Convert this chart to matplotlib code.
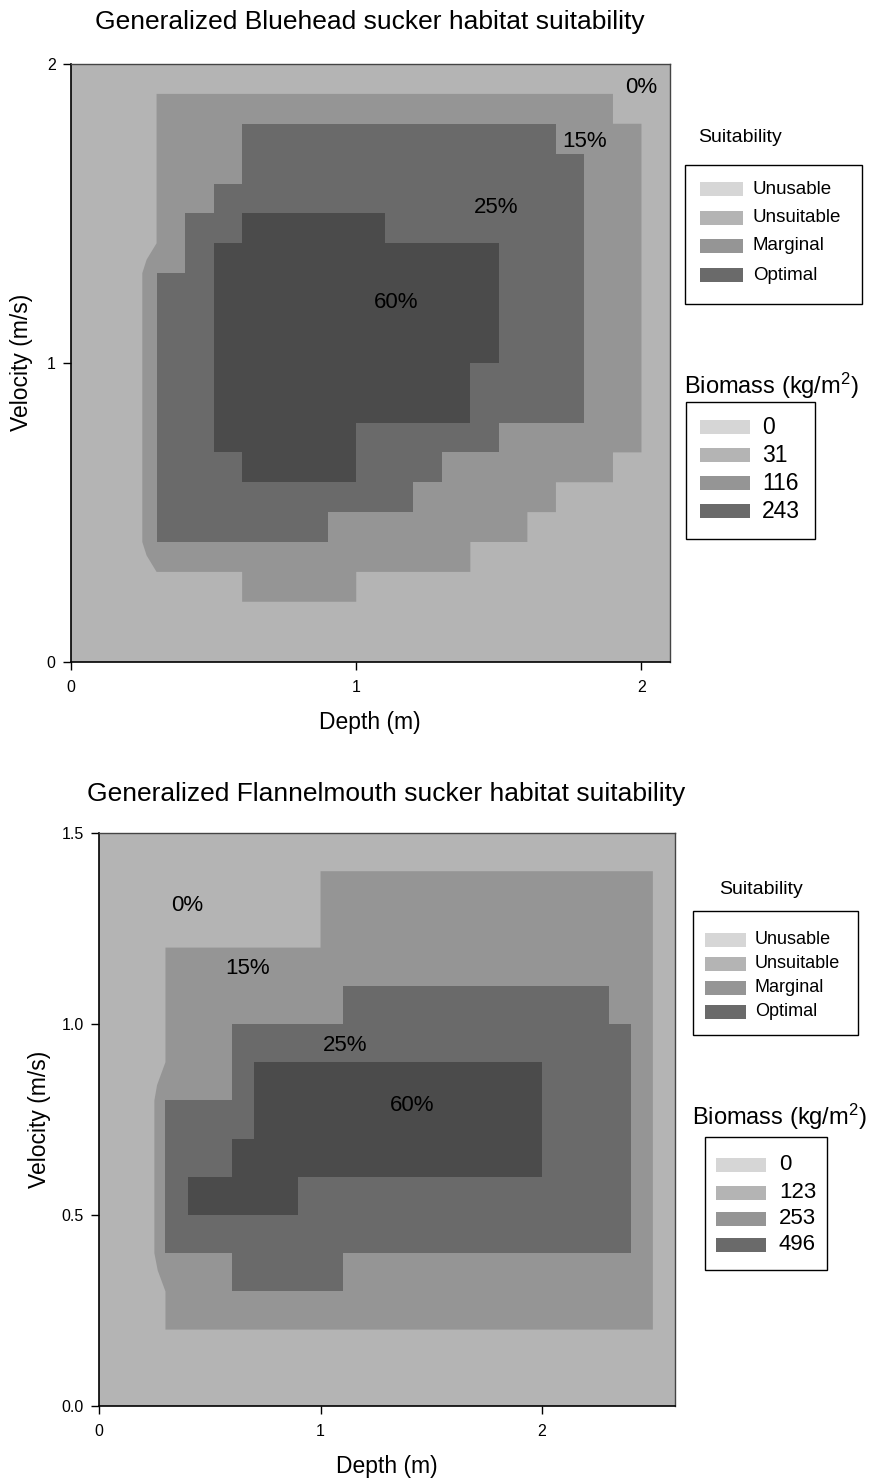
"""Generalized habitat suitability maps (depth vs. velocity) for two sucker species."""
import matplotlib
matplotlib.use("Agg")
import matplotlib.pyplot as plt
from matplotlib.patches import Polygon, Rectangle

plt.rcParams.update({
    "font.family": ["Liberation Sans", "DejaVu Sans"],
    "mathtext.fontset": "custom",
    "mathtext.rm": "Liberation Sans",
    "mathtext.it": "Liberation Sans",
})

_UNUSABLE = "#d6d6d6"
_UNSUITABLE = "#b4b4b4"
_MARGINAL = "#959595"
_OPTIMAL = "#6a6a6a"
_CORE = "#4b4b4b"

# --- Bluehead sucker: zone outlines as (depth m, velocity m/s) vertices ---
bluehead_15 = [(0.3, 1.9), (1.9, 1.9), (1.9, 1.8), (2.0, 1.8), (2.0, 0.7), (1.9, 0.7),
               (1.9, 0.6), (1.7, 0.6), (1.7, 0.5), (1.6, 0.5), (1.6, 0.4), (1.4, 0.4),
               (1.4, 0.3), (1.0, 0.3), (1.0, 0.2), (0.6, 0.2), (0.6, 0.3), (0.3, 0.3),
               (0.265, 0.355), (0.25, 0.4), (0.25, 1.3), (0.265, 1.345), (0.3, 1.4)]
bluehead_25 = [(0.6, 1.8), (1.7, 1.8), (1.7, 1.7), (1.8, 1.7), (1.8, 0.8), (1.5, 0.8),
               (1.5, 0.7), (1.3, 0.7), (1.3, 0.6), (1.2, 0.6), (1.2, 0.5), (0.9, 0.5),
               (0.9, 0.4), (0.3, 0.4), (0.3, 1.3), (0.4, 1.3), (0.4, 1.5), (0.5, 1.5),
               (0.5, 1.6), (0.6, 1.6)]
bluehead_60 = [(0.6, 1.5), (1.1, 1.5), (1.1, 1.4), (1.5, 1.4), (1.5, 1.0), (1.4, 1.0),
               (1.4, 0.8), (1.0, 0.8), (1.0, 0.6), (0.6, 0.6), (0.6, 0.7), (0.5, 0.7),
               (0.5, 1.4), (0.6, 1.4)]
bluehead_pct = ["0%", "15%", "25%", "60%"]
bluehead_pct_xy = [(2.0, 1.92), (1.8, 1.74), (1.49, 1.52), (1.14, 1.20)]
bluehead_biomass = ["0", "31", "116", "243"]

# --- Flannelmouth sucker ---
flannel_15 = [(0.3, 1.2), (1.0, 1.2), (1.0, 1.4), (2.5, 1.4), (2.5, 0.2), (0.3, 0.2),
              (0.3, 0.3), (0.265, 0.355), (0.25, 0.4), (0.25, 0.8), (0.262, 0.84), (0.3, 0.9)]
flannel_25 = [(0.6, 1.0), (1.1, 1.0), (1.1, 1.1), (2.3, 1.1), (2.3, 1.0), (2.4, 1.0),
              (2.4, 0.4), (1.1, 0.4), (1.1, 0.3), (0.6, 0.3), (0.6, 0.4), (0.3, 0.4),
              (0.3, 0.8), (0.6, 0.8)]
flannel_60 = [(0.7, 0.9), (2.0, 0.9), (2.0, 0.6), (0.9, 0.6), (0.9, 0.5), (0.4, 0.5),
              (0.4, 0.6), (0.6, 0.6), (0.6, 0.7), (0.7, 0.7)]
flannel_pct = ["0%", "15%", "25%", "60%"]
flannel_pct_xy = [(0.40, 1.31), (0.67, 1.145), (1.11, 0.944), (1.415, 0.787)]
flannel_biomass = ["0", "123", "253", "496"]

suitability = ["Unusable", "Unsuitable", "Marginal", "Optimal"]
key_colors = [_UNUSABLE, _UNSUITABLE, _MARGINAL, _OPTIMAL]

W, H = 879, 1480
fig = plt.figure(figsize=(W / 100, H / 100), dpi=100)


def px_axes(left, top, right, bottom):
    return fig.add_axes([left / W, 1 - bottom / H, (right - left) / W, (bottom - top) / H])


def draw_panel(ax, zones, pct, pct_xy, xlim, ylim, yticks, yfmt):
    ax.set_facecolor(_UNSUITABLE)
    for verts, col in zip(zones, [_MARGINAL, _OPTIMAL, _CORE]):
        ax.add_patch(Polygon(verts, closed=True, facecolor=col, edgecolor="none"))
    for txt, (x, y) in zip(pct, pct_xy):
        ax.text(x, y, txt, fontsize=16, ha="center", va="center")
    ax.set_xlim(*xlim)
    ax.set_ylim(*ylim)
    ax.set_xticks([0, 1, 2])
    ax.set_yticks(yticks)
    ax.set_yticklabels([yfmt.format(v) for v in yticks])
    ax.tick_params(direction="out", length=6, width=1, labelsize=11.5)
    ax.tick_params(axis="x", pad=7)
    ax.tick_params(axis="y", pad=5)
    for side in ("left", "bottom"):
        ax.spines[side].set_color("black")
        ax.spines[side].set_linewidth(1.2)
    for side in ("top", "right"):
        ax.spines[side].set_color("#444444")
        ax.spines[side].set_linewidth(1.0)


ax1 = px_axes(71, 64, 670, 661.5)
draw_panel(ax1, [bluehead_15, bluehead_25, bluehead_60], bluehead_pct, bluehead_pct_xy,
           (0, 2.1), (0, 2), [0, 1, 2], "{:g}")
ax2 = px_axes(99, 833, 675, 1406)
draw_panel(ax2, [flannel_15, flannel_25, flannel_60], flannel_pct, flannel_pct_xy,
           (0, 2.6), (0, 1.5), [0, 0.5, 1.0, 1.5], "{:.1f}")

# overlay in pixel units for titles, axis labels and the keys
ov = fig.add_axes([0, 0, 1, 1])
ov.set_xlim(0, W)
ov.set_ylim(H, 0)
ov.axis("off")
ov.patch.set_alpha(0)

ov.text(370, 22, "Generalized Bluehead sucker habitat suitability", fontsize=19,
        ha="center", va="center")
ov.text(386, 794, "Generalized Flannelmouth sucker habitat suitability", fontsize=19,
        ha="center", va="center")
ov.text(370, 722, "Depth (m)", fontsize=16.5, ha="center", va="center")
ov.text(387, 1466, "Depth (m)", fontsize=16.5, ha="center", va="center")
ov.text(22, 362, "Velocity (m/s)", fontsize=16.5, ha="center", va="center", rotation=90)
ov.text(40, 1119, "Velocity (m/s)", fontsize=16.5, ha="center", va="center", rotation=90)


def draw_key(title, title_xy, title_size, box, rows, labels, colors, patch_x, label_x,
             size, patch_h=14):
    ov.text(*title_xy, title, fontsize=title_size, ha="center", va="center")
    x0, y0, x1, y1 = box
    ov.add_patch(Rectangle((x0, y0), x1 - x0, y1 - y0, facecolor="white",
                           edgecolor="black", linewidth=1))
    for y, lab, col in zip(rows, labels, colors):
        ov.add_patch(Rectangle((patch_x[0], y - patch_h / 2), patch_x[1] - patch_x[0],
                               patch_h, facecolor=col, edgecolor="none"))
        ov.text(label_x, y, lab, fontsize=size, ha="left", va="center")


biomass_title = r"Biomass (kg/m$^{\mathregular{2}}$)"

draw_key("Suitability", (740, 137), 14, (685, 165, 862, 304), [189, 218, 246, 275],
         suitability, key_colors, (700, 743), 753, 13.5)
draw_key(biomass_title, (771, 386), 17, (686, 402, 815, 539), [427, 455, 483, 511],
         bluehead_biomass, key_colors, (700, 750), 762, 16.5)
draw_key("Suitability", (761, 890), 14, (693, 911, 858, 1035), [940, 964, 988, 1012],
         suitability, key_colors, (705, 746), 755, 13)
draw_key(biomass_title, (779, 1117), 17, (705, 1137, 827, 1270), [1165, 1193, 1219, 1245],
         flannel_biomass, key_colors, (716, 766), 779, 16)

fig.savefig("out.png", dpi=100, facecolor="white")
